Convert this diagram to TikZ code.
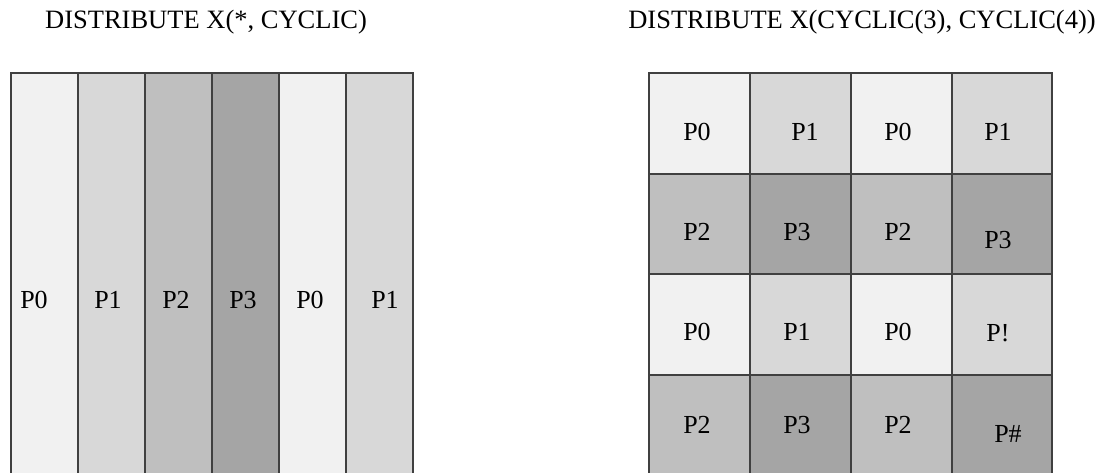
\documentclass[tikz,border=0pt]{standalone}
\usepackage{fontspec}
\setmainfont{Liberation Serif}
\definecolor{cA}{HTML}{F1F1F1}
\definecolor{cB}{HTML}{D8D8D8}
\definecolor{cC}{HTML}{BFBFBF}
\definecolor{cD}{HTML}{A5A5A5}
\definecolor{edge}{HTML}{404040}
\tikzset{
  cell/.style={draw=edge, line width=1.6pt},
  lbl/.style={inner sep=0pt, font=\fontsize{26}{30}\selectfont},
  ttl/.style={inner sep=0pt, font=\fontsize{26.5}{30}\selectfont}
}
\begin{document}
\begin{tikzpicture}[x=1pt,y=1pt]
\useasboundingbox (0,0) rectangle (1113,473);
\clip (0,0) rectangle (1113,473);
% titles
\node[ttl] (t1) at (206,451) {DISTRIBUTE X(*, CYCLIC)};
\node[ttl] (t2) at (862,451) {DISTRIBUTE X(CYCLIC(3), CYCLIC(4))};
% left columns (top at y=473-73=400)
\foreach \i/\c in {0/cA,1/cB,2/cC,3/cD,4/cA,5/cB}{
  \path[cell, fill=\c] ({11+67*\i},400) rectangle ({11+67*(\i+1)},-5);
}
\node[lbl] (l0) at (34,173) {P0};
\node[lbl] (l1) at (108,173) {P1};
\node[lbl] (l2) at (176,173) {P2};
\node[lbl] (l3) at (243,173) {P3};
\node[lbl] (l4) at (310,173) {P0};
\node[lbl] (l5) at (385,173) {P1};
% right grid: x edges 649,750,851,952,1052 ; y edges (top) 400,299,199,98,-3
\foreach \r/\ya/\yb/\ca/\cb in {0/400/299/cA/cB,1/299/199/cC/cD,2/199/98/cA/cB,3/98/-3/cC/cD}{
  \path[cell, fill=\ca] (649,\ya) rectangle (750,\yb);
  \path[cell, fill=\cb] (750,\ya) rectangle (851,\yb);
  \path[cell, fill=\ca] (851,\ya) rectangle (952,\yb);
  \path[cell, fill=\cb] (952,\ya) rectangle (1052,\yb);
}
\node[lbl] (a1) at (697,341) {P0};
\node[lbl] (a2) at (805,341) {P1};
\node[lbl] (a3) at (898,341) {P0};
\node[lbl] (a4) at (998,341) {P1};
\node[lbl] (b1) at (697,241) {P2};
\node[lbl] (b2) at (797,241) {P3};
\node[lbl] (b3) at (898,241) {P2};
\node[lbl] (b4) at (998,233) {P3};
\node[lbl] (c1) at (697,141) {P0};
\node[lbl] (c2) at (797,141) {P1};
\node[lbl] (c3) at (898,141) {P0};
\node[lbl] (c4) at (998,140) {P!};
\node[lbl] (d1) at (697,48) {P2};
\node[lbl] (d2) at (797,48) {P3};
\node[lbl] (d3) at (898,48) {P2};
\node[lbl] (d4) at (1008,39) {P\#};
\end{tikzpicture}
\end{document}
